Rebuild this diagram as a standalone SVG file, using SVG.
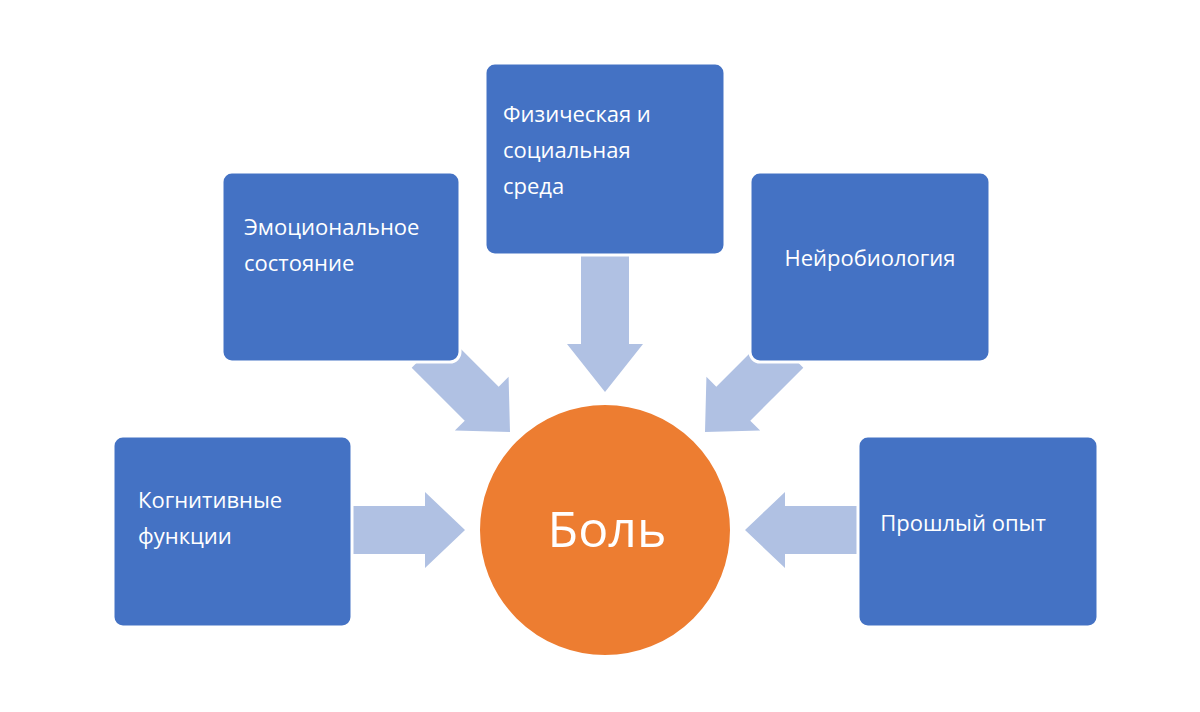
<svg xmlns="http://www.w3.org/2000/svg" width="1200" height="712" viewBox="0 0 1200 712">
<style>
.box{fill:#4472C4;stroke:#fff;stroke-width:3}
.t{fill:#fff;font-family:"Open Sans","Liberation Sans",sans-serif;font-size:22px}
.ar{fill:#B0C1E3}
</style>
<defs><polygon id="arr" points="-115,-24 -40,-24 -40,-38 0,0 -40,38 -40,24 -115,24"/></defs>
<rect width="1200" height="712" fill="#fff"/>
<g id="connectors">
<use href="#arr" class="ar" transform="translate(465,530)"/>
<use href="#arr" class="ar" transform="translate(745,530) rotate(180)"/>
<use href="#arr" class="ar" transform="translate(605,392) rotate(90) scale(1.2,1)"/>
<use href="#arr" class="ar" transform="translate(510,432) rotate(45)"/>
<use href="#arr" class="ar" transform="translate(705,432) rotate(135)"/>
</g>
<g id="n1"><rect class="box" x="222" y="172" width="238" height="190" rx="10"/><text class="t" x="244" y="235">Эмоциональное</text><text class="t" x="244" y="271">состояние</text></g>
<g id="n2"><rect class="box" x="485" y="63" width="240" height="192" rx="10"/><text class="t" x="503" y="122">Физическая и</text><text class="t" x="503" y="158">социальная</text><text class="t" x="503" y="194">среда</text></g>
<g id="n3"><rect class="box" x="750" y="172" width="240" height="190" rx="10"/><text class="t" x="870" y="266" text-anchor="middle">Нейробиология</text></g>
<g id="n4"><rect class="box" x="113" y="436" width="239" height="191" rx="10"/><text class="t" x="138" y="508">Когнитивные</text><text class="t" x="138" y="544">функции</text></g>
<g id="n5"><rect class="box" x="858" y="436" width="240" height="191" rx="10"/><text class="t" x="963" y="531" text-anchor="middle">Прошлый опыт</text></g>
<g id="center"><circle cx="605" cy="530" r="127" fill="#ED7D31" stroke="#fff" stroke-width="4"/><text x="607" y="547" text-anchor="middle" fill="#fff" font-family="'Open Sans','Liberation Sans',sans-serif" font-size="50">Боль</text></g>
</svg>
